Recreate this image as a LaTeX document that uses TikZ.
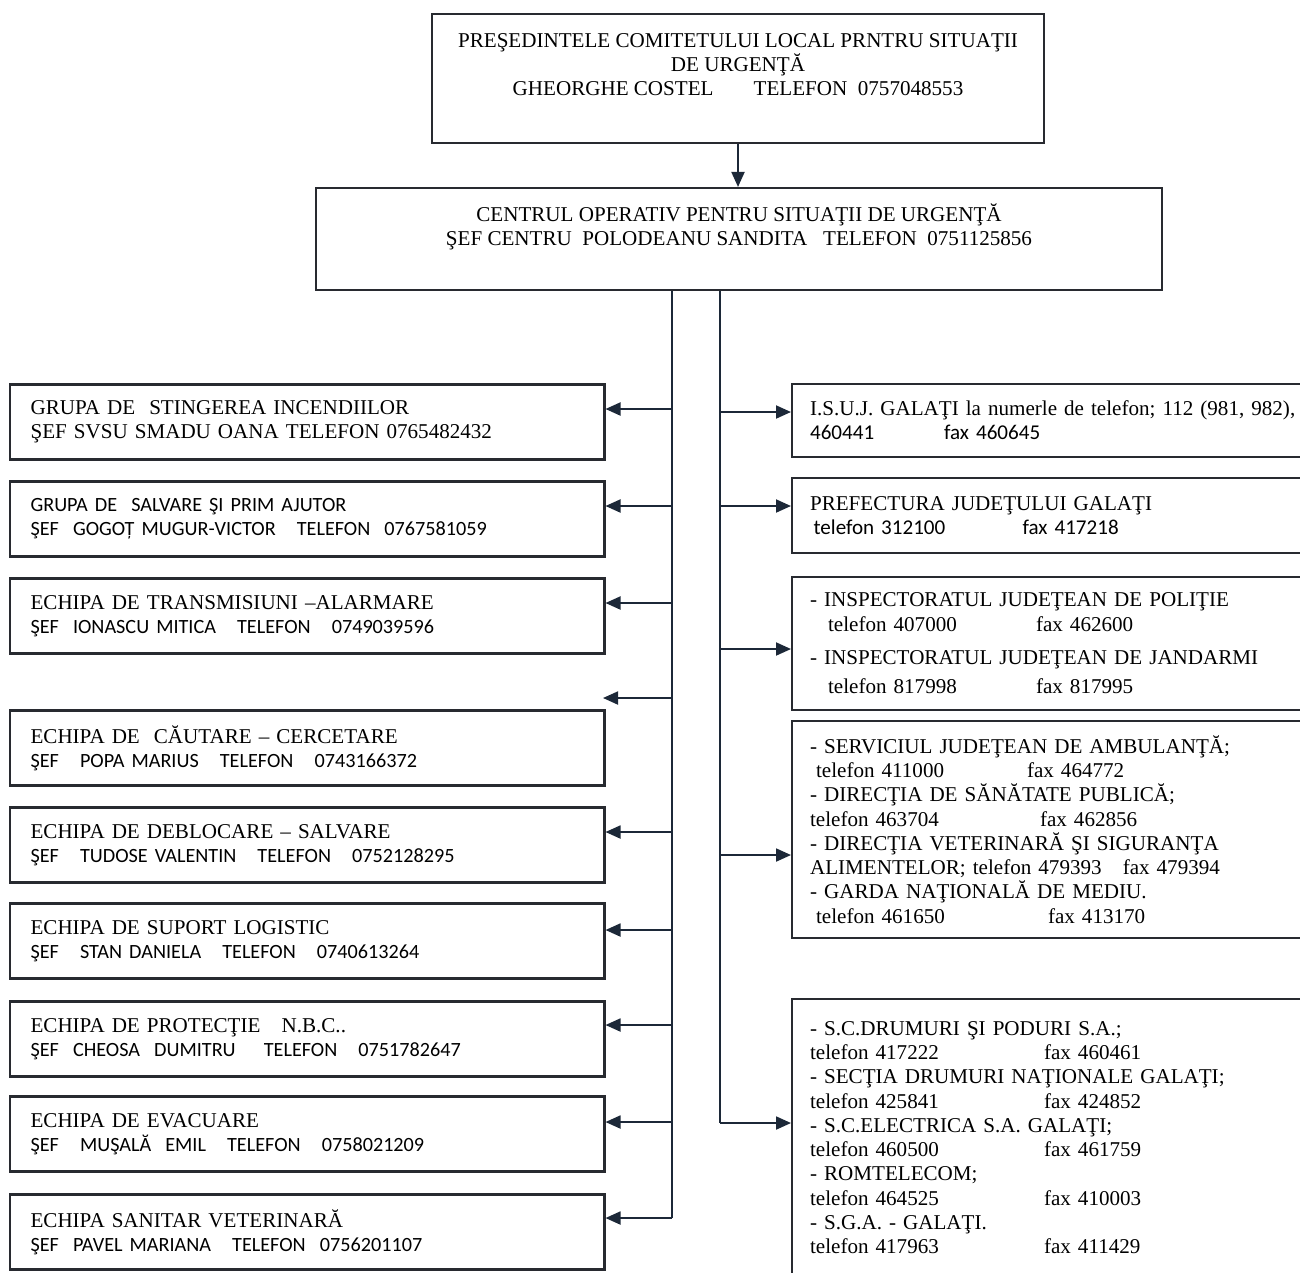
\documentclass[tikz,border=0pt]{standalone}
\usepackage{fontspec}
\setmainfont{Liberation Serif}
\newfontfamily\calib{Carlito}
\usetikzlibrary{arrows.meta, positioning}
\definecolor{wirenavy}{RGB}{28, 40, 56}
\definecolor{boxline}{RGB}{40, 42, 48}
\newcommand{\tfx}[3]{\makebox[#1][l]{#2}#3}
\newcommand{\lsans}{\calib\fontsize{11.5}{13.8}\selectfont}

\begin{document}
\begin{tikzpicture}[x=0.02cm, y=-0.02cm,
  topbox/.style={draw=boxline, line width=1.2pt},
  lbox/.style={draw=boxline, line width=1.2pt, text width=11.06cm, inner xsep=0.42cm,
               minimum height=1.5cm, align=left, font=\fontsize{12}{13.8}\selectfont},
  rbox/.style={draw=boxline, line width=1.2pt, text width=9.84cm, inner xsep=0.36cm,
               align=left, font=\fontsize{12}{13.8}\selectfont},
  wire/.style={wirenavy, line width=1.1pt},
  arr/.style={wire, -{Triangle[length=0.3cm, width=0.26cm]}},
]
\useasboundingbox (0,0) rectangle (1300,1272);
\clip (0,0) rectangle (1300,1272);

% Leadership
\node[topbox, minimum width=12.24cm, minimum height=2.58cm] (pres) at (738,78.5) {};
\node[anchor=north, inner sep=0pt, align=center, font=\fontsize{12}{13.8}\selectfont] (pres-txt) at (738,33)
{PREŞEDINTELE COMITETULUI LOCAL PRNTRU SITUAŢII\\
DE URGENŢĂ\\
GHEORGHE COSTEL\hspace{1.9em}TELEFON~~0757048553};

\node[topbox, minimum width=16.92cm, minimum height=2.04cm] (cosu) at (739,239) {};
\node[anchor=north, inner sep=0pt, align=center, font=\fontsize{12}{13.8}\selectfont] (cosu-txt) at (739,203)
{CENTRUL OPERATIV PENTRU SITUAŢII DE URGENŢĂ\\
ŞEF CENTRU~~POLODEANU SANDITA~~~TELEFON~~0751125856};

\draw[arr] (pres.south) -- (pres.south |- cosu.north);

% Intervention teams
\node[lbox] (g1) at (307,422) {GRUPA DE~~STINGEREA INCENDIILOR\\
ŞEF SVSU SMADU OANA TELEFON 0765482432};
\node[lbox] (g2) at (307,519) {\lsans GRUPA DE~~SALVARE ŞI PRIM AJUTOR\\
ŞEF~~GOGOȚ MUGUR-VICTOR~~~TELEFON~~0767581059};
\node[lbox] (g3) at (307,616) {ECHIPA DE TRANSMISIUNI --ALARMARE\\
{\lsans ŞEF~~IONASCU MITICA~~~TELEFON~~~0749039596}};
\node[lbox] (g4) at (307,748) {ECHIPA DE~~CĂUTARE -- CERCETARE\\
{\lsans ŞEF~~~POPA MARIUS~~~TELEFON~~~0743166372}};
\node[lbox] (g5) at (307,845) {ECHIPA DE DEBLOCARE -- SALVARE\\
{\lsans ŞEF~~~TUDOSE VALENTIN~~~TELEFON~~~0752128295}};
\node[lbox] (g6) at (307,941) {ECHIPA DE SUPORT LOGISTIC\\
{\lsans ŞEF~~~STAN DANIELA~~~TELEFON~~~0740613264}};
\node[lbox] (g7) at (307,1039) {ECHIPA DE PROTECŢIE~~~N.B.C..\\
{\lsans ŞEF~~CHEOSA~~DUMITRU~~~~TELEFON~~~0751782647}};
\node[lbox] (g8) at (307,1134) {ECHIPA DE EVACUARE\\
{\lsans ŞEF~~~MUŞALĂ~~EMIL~~~TELEFON~~~0758021209}};
\node[lbox] (g9) at (307,1232) {ECHIPA SANITAR VETERINARĂ\\
{\lsans ŞEF~~PAVEL MARIANA~~~TELEFON~~0756201107}};

% Outside institutions
\node[rbox, minimum height=1.46cm] (i1) at (1056,420.5)
{I.S.U.J. GALAŢI la numerle de telefon; 112 (981, 982),\\
{\calib\tfx{2.68cm}{460441}{fax 460645}}};
\node[rbox, minimum height=1.5cm] (i2) at (1056,515.5)
{PREFECTURA JUDEŢULUI GALAŢI\\
{\calib\hspace{2pt}\tfx{4.18cm}{telefon 312100}{fax 417218}}};
\node[rbox, minimum height=2.66cm] (i3) at (1056,643.5)
{- INSPECTORATUL JUDEŢEAN DE POLIŢIE\\
\hspace{0.36cm}\tfx{4.16cm}{telefon 407000}{fax 462600}\\[5pt]
- INSPECTORATUL JUDEŢEAN DE JANDARMI\\[3pt]
\hspace{0.36cm}\tfx{4.16cm}{telefon 817998}{fax 817995}};
\node[rbox, minimum height=4.34cm] (i4) at (1056,829.5)
{- SERVICIUL JUDEŢEAN DE AMBULANŢĂ;\\
\hspace{0.12cm}\tfx{4.22cm}{telefon 411000}{fax 464772}\\
- DIRECŢIA DE SĂNĂTATE PUBLICĂ;\\
\tfx{4.6cm}{telefon 463704}{fax 462856}\\
- DIRECŢIA VETERINARĂ ŞI SIGURANŢA\\
ALIMENTELOR; telefon 479393~~~fax 479394\\
- GARDA NAŢIONALĂ DE MEDIU.\\
\hspace{0.12cm}\tfx{4.64cm}{telefon 461650}{fax 413170}};
\node[rbox, minimum height=5.54cm] (i5) at (1056,1137.5)
{- S.C.DRUMURI ŞI PODURI S.A.;\\
\tfx{4.68cm}{telefon 417222}{fax 460461}\\
- SECŢIA DRUMURI NAŢIONALE GALAŢI;\\
\tfx{4.68cm}{telefon 425841}{fax 424852}\\
- S.C.ELECTRICA S.A. GALAŢI;\\
\tfx{4.68cm}{telefon 460500}{fax 461759}\\
- ROMTELECOM;\\
\tfx{4.68cm}{telefon 464525}{fax 410003}\\
- S.G.A. - GALAŢI.\\
\tfx{4.68cm}{telefon 417963}{fax 411429}};

% Trunk lines
\coordinate (l1) at (672,409);
\coordinate (l2) at (672,506);
\coordinate (l3) at (672,603);
\coordinate (l4) at (672,698);
\coordinate (l5) at (672,832);
\coordinate (l6) at (672,930);
\coordinate (l7) at (672,1025);
\coordinate (l8) at (672,1122);
\coordinate (l9) at (672,1218);
\coordinate (lone) at (603,698);
\coordinate (r1) at (720,412);
\coordinate (r2) at (720,506);
\coordinate (r3) at (720,649);
\coordinate (r4) at (720,855);
\coordinate (r5) at (720,1123);

\draw[wire] (cosu.south -| l1) -- (l9);
\draw[wire] (cosu.south -| r1) -- (r5);

\draw[arr] (l1) -- (l1 -| g1.east);
\draw[arr] (l2) -- (l2 -| g2.east);
\draw[arr] (l3) -- (l3 -| g3.east);
\draw[arr] (l4) -- (lone);
\draw[arr] (l5) -- (l5 -| g5.east);
\draw[arr] (l6) -- (l6 -| g6.east);
\draw[arr] (l7) -- (l7 -| g7.east);
\draw[arr] (l8) -- (l8 -| g8.east);
\draw[arr] (l9) -- (l9 -| g9.east);

\draw[arr] (r1) -- (r1 -| i1.west);
\draw[arr] (r2) -- (r2 -| i2.west);
\draw[arr] (r3) -- (r3 -| i3.west);
\draw[arr] (r4) -- (r4 -| i4.west);
\draw[arr] (r5) -- (r5 -| i5.west);
\end{tikzpicture}
\end{document}
